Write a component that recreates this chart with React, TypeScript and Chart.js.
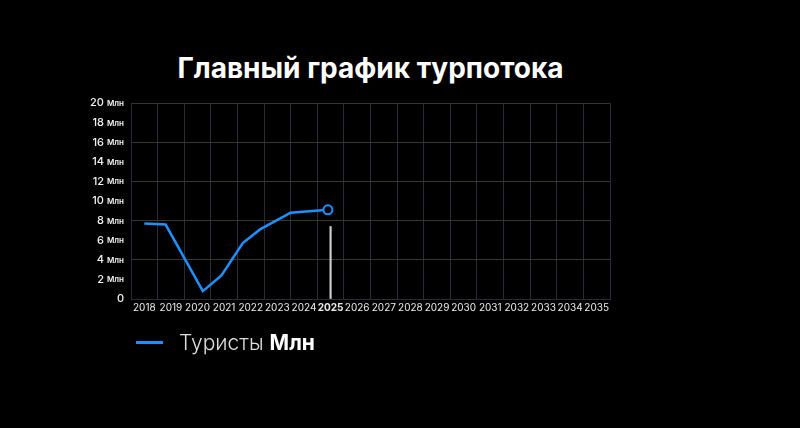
// Tourist flow chart — a single line series on a linear year axis, with a thin
// marker bar for the current year and custom two-size y labels ("20 Млн").

import { useEffect, useRef } from 'react';
import { Chart, registerables } from 'chart.js';
import type { ChartConfiguration, Plugin } from 'chart.js';

Chart.register(...registerables);

const YEARS = [
  2018, 2019, 2020, 2021, 2022, 2023, 2024, 2025, 2026,
  2027, 2028, 2029, 2030, 2031, 2032, 2033, 2034, 2035,
];
const CURRENT_YEAR = 2025;

// tourists, millions — x is the (fractional) year position
const TOURIST_X = [2018.0, 2018.8, 2020.2, 2020.9, 2021.7, 2022.35, 2023.5, 2024.9];
const TOURIST_Y = [7.7, 7.6, 0.8, 2.4, 5.7, 7.1, 8.8, 9.1];

// thin marker at the current year
const MARKER_X = [2025];
const MARKER_Y = [7.4];

const Y_TICKS = [0, 2, 4, 6, 8, 10, 12, 14, 16, 18, 20];
const Y_UNIT = 'Млн';

const FONT = 'Inter, "Noto Sans", sans-serif';
const BLUE = '#1e90ff';

// y labels: number in one size, unit in a smaller bold one
const yLabels: Plugin = {
  id: 'yLabels',
  afterDraw(chart) {
    const { ctx } = chart;
    const y = chart.scales.y;
    const right = chart.chartArea.left - 7;
    ctx.save();
    ctx.textBaseline = 'middle';
    ctx.textAlign = 'right';
    ctx.fillStyle = '#f2f2f2';
    for (const v of Y_TICKS) {
      const py = y.getPixelForValue(v);
      if (v === 0) {
        ctx.font = `500 11px ${FONT}`;
        ctx.fillText('0', right, py);
        continue;
      }
      ctx.font = `600 8px ${FONT}`;
      const unitW = ctx.measureText(Y_UNIT).width;
      ctx.fillText(Y_UNIT, right, py + 0.5);
      ctx.font = `500 11px ${FONT}`;
      ctx.fillText(String(v), right - unitW - 3, py);
    }
    ctx.restore();
  },
};

function buildChart(canvas: HTMLCanvasElement): Chart {
  const last = TOURIST_X.length - 1;
  const config: ChartConfiguration = {
    type: 'line',
    data: {
      datasets: [
        {
          type: 'bar',
          data: MARKER_X.map((x, i) => ({ x, y: MARKER_Y[i] })),
          backgroundColor: '#cfcfcf',
          barThickness: 1.5,
          borderWidth: 0,
        },
        {
          type: 'line',
          data: TOURIST_X.map((x, i) => ({ x, y: TOURIST_Y[i] })),
          borderColor: BLUE,
          borderWidth: 2.5,
          tension: 0,
          pointRadius: (c) => (c.dataIndex === last ? 4.5 : 0),
          pointBorderWidth: 2,
          pointBorderColor: BLUE,
          pointBackgroundColor: '#000',
          fill: false,
        },
      ],
    } as any,
    options: {
      responsive: true,
      maintainAspectRatio: false,
      animation: false,
      layout: { padding: { left: 81, right: 190, top: 103, bottom: 111 } },
      plugins: {
        legend: { display: false },
        title: { display: false },
        tooltip: { enabled: false },
      },
      scales: {
        x: {
          type: 'linear',
          offset: false,
          min: YEARS[0] - 0.5,
          max: YEARS[YEARS.length - 1] + 0.5,
          afterBuildTicks: (scale) => {
            scale.ticks = YEARS.map((value) => ({ value }));
          },
          afterFit: (scale) => {
            scale.height = 18;
          },
          grid: { offset: true, color: '#2a2a3a', drawTicks: false, lineWidth: 1 },
          border: { color: '#2a2a3a' },
          ticks: {
            padding: 3,
            color: '#ececec',
            maxRotation: 0,
            autoSkip: false,
            callback: (v) => String(v),
            font: (c: any) => ({
              family: FONT,
              size: 10,
              weight: c.tick && c.tick.value === CURRENT_YEAR ? '700' : '400',
            }),
          },
        },
        y: {
          min: 0,
          max: 20,
          afterBuildTicks: (scale) => {
            scale.ticks = Y_TICKS.map((value) => ({ value }));
          },
          afterFit: (scale) => {
            scale.width = 50;
          },
          grid: {
            drawTicks: false,
            color: (c: any) => (c.tick && c.tick.value % 4 === 0 ? '#37372a' : 'rgba(0,0,0,0)'),
          },
          border: { color: '#2a2a3a' },
          ticks: { display: false },
        },
      },
    },
    plugins: [yLabels],
  };
  return new Chart(canvas, config);
}

export default function App() {
  const canvasRef = useRef<HTMLCanvasElement>(null);

  useEffect(() => {
    const canvas = canvasRef.current;
    if (!canvas) return;
    const chart = buildChart(canvas);
    return () => chart.destroy();
  }, []);

  return (
    <div style={{ position: 'fixed', inset: 0, background: '#000', fontFamily: FONT }}>
      <div
        style={{
          position: 'absolute',
          left: 131,
          width: 479,
          top: 51,
          textAlign: 'center',
          color: '#fff',
          fontSize: 28,
          lineHeight: '34px',
          fontWeight: 700,
          whiteSpace: 'nowrap',
        }}
      >
        Главный график турпотока
      </div>
      <div style={{ position: 'absolute', left: 0, top: 0, width: 800, height: 428 }}>
        <canvas ref={canvasRef} />
      </div>
      <div
        style={{
          position: 'absolute',
          left: 136,
          top: 328,
          display: 'flex',
          alignItems: 'center',
          height: 28,
          fontSize: 21,
          color: '#dedede',
        }}
      >
        <span style={{ width: 27, height: 3, background: BLUE, marginRight: 16 }} />
        <span style={{ fontWeight: 300 }}>Туристы</span>
        <span style={{ fontWeight: 700, color: '#fff', marginLeft: 6 }}>{Y_UNIT}</span>
      </div>
    </div>
  );
}
